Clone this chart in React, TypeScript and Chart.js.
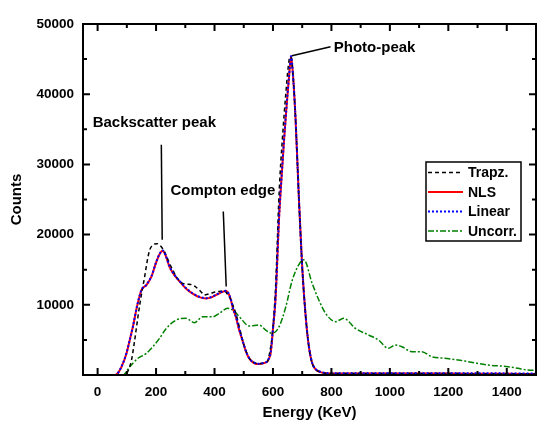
import React, { useEffect, useRef } from 'react';
import { Chart, registerables } from 'chart.js';
Chart.register(...registerables);

// Energy (keV) / counts
const trapzE = [30, 80, 99, 108, 116, 127, 138, 150, 161, 170, 178, 186, 195, 204, 212, 221, 229, 238, 246, 258, 269, 280, 291, 305, 318, 326, 337, 348, 357, 365, 380, 394, 415, 433, 446, 456, 465, 473, 485, 496, 508, 519, 535, 553, 570, 581, 590, 598, 609, 621, 632, 644, 652, 658, 662, 668, 677, 689, 700, 712, 723, 734, 746, 760, 780, 800, 900, 1000, 1100, 1200, 1300, 1400, 1500];
const trapzC = [0, 0, 200, 1000, 2140, 5000, 8300, 11500, 14000, 16300, 17800, 18400, 18660, 18700, 18500, 18100, 17560, 16700, 15900, 14900, 14000, 13400, 13060, 12950, 12900, 12800, 12500, 12100, 11700, 11400, 11550, 11730, 11900, 12000, 11400, 10700, 9700, 8790, 6800, 5000, 3400, 2380, 1800, 1600, 1700, 1900, 3500, 5900, 12580, 25900, 33500, 40100, 43800, 45300, 45200, 43000, 36700, 24900, 15400, 8300, 4000, 1700, 800, 450, 250, 200, 200, 200, 200, 200, 190, 180, 150];

const nlsE = [30, 55, 65, 80, 99, 110, 121, 135, 150, 167, 184, 200, 212, 222, 232, 246, 265, 281, 303, 325, 348, 371, 392, 406, 425, 440, 449, 456, 463, 473, 484, 495, 507, 518, 535, 551, 570, 580, 587, 592, 600, 609, 621, 630, 638, 647, 655, 662, 668, 677, 689, 700, 712, 723, 734, 746, 760, 780, 800, 900, 1000, 1100, 1200, 1300, 1400, 1500];
const nlsC = [0, 0, 100, 1000, 3100, 5000, 6900, 9800, 12100, 12800, 14000, 16000, 17200, 17700, 17100, 15400, 14100, 13300, 12300, 11600, 11100, 10900, 11100, 11400, 11800, 11950, 11500, 10700, 9500, 8300, 6500, 5000, 3400, 2400, 1700, 1550, 1700, 1900, 2400, 3100, 6500, 11000, 22500, 28500, 33500, 38500, 42500, 45400, 43000, 36700, 24900, 15400, 8300, 4000, 1700, 800, 450, 250, 200, 200, 200, 200, 200, 190, 180, 150];

const linearE = nlsE;
const linearC = [0, 0, 100, 1050, 3150, 5000, 6950, 9850, 12100, 12850, 14050, 16050, 17250, 17750, 17150, 15450, 14150, 13350, 12350, 11650, 11150, 10950, 11150, 11450, 11850, 12000, 11550, 10750, 9550, 8350, 6550, 5050, 3450, 2450, 1750, 1600, 1750, 1950, 2450, 3150, 6550, 11050, 22550, 28550, 33550, 38550, 42550, 45450, 43050, 36750, 24950, 15450, 8350, 4050, 1750, 850, 500, 300, 250, 250, 250, 250, 250, 240, 230, 200];

const uncorrE = [40, 87, 110, 138, 167, 189, 212, 235, 269, 303, 331, 360, 394, 416, 445, 462, 485, 519, 553, 575, 598, 621, 644, 666, 695, 706, 734, 757, 780, 814, 842, 882, 927, 961, 995, 1018, 1041, 1075, 1109, 1143, 1188, 1234, 1268, 1336, 1404, 1438, 1472, 1500];
const uncorrC = [0, 0, 1190, 2380, 3090, 4030, 5230, 6650, 7830, 8070, 7450, 8300, 8300, 8770, 9500, 9260, 8300, 6980, 7120, 6400, 5940, 6880, 9730, 13500, 16140, 16400, 13060, 10680, 8790, 7600, 8070, 6650, 5700, 4990, 3800, 4270, 4030, 3320, 3320, 2610, 2380, 2140, 1900, 1420, 1190, 950, 710, 650];

const xTickValues = [0, 200, 400, 600, 800, 1000, 1200, 1400];
const yTickValues = [10000, 20000, 30000, 40000, 50000];
const seriesNames = ['Trapz.', 'NLS', 'Linear', 'Uncorr.'];
const drawOrder = [1, 2, 0, 3];

// annotation texts with anchor (data units)
const annotations = [
  { text: 'Backscatter peak', tx: -17, ty: 35970, from: [218, 32800], to: [221, 19260] },
  { text: 'Compton edge', tx: 249, ty: 26240, from: [430, 23290], to: [440, 12600] },
  { text: 'Photo-peak', tx: 808, ty: 46610, from: [797, 46750], to: [665, 45470] },
];

const FONT = '"Liberation Sans", Arial, sans-serif';

function pts(xs: number[], ys: number[]) {
  return xs.map((x, i) => ({ x, y: ys[i] }));
}

const styles = [
  { color: '#000000', width: 1.5, dash: [4, 3] },
  { color: '#ff0000', width: 2, dash: [] as number[] },
  { color: '#0000ff', width: 2, dash: [2, 2] },
  { color: '#008000', width: 1.5, dash: [6, 2, 2, 2] },
];

export default function App() {
  const ref = useRef<HTMLCanvasElement>(null);
  useEffect(() => {
    document.body.style.margin = '0';
    const canvas = ref.current!;
    const framePlugin = {
      id: 'frame',
      afterDraw(chart: any) {
        const { ctx, chartArea } = chart;
        const { left, right, top, bottom } = chartArea;
        const xs = chart.scales.x;
        const ys = chart.scales.y;
        ctx.save();
        ctx.strokeStyle = '#000';
        ctx.lineWidth = 2;
        ctx.setLineDash([]);
        ctx.strokeRect(left, top, right - left, bottom - top);
        for (let v = 0; v <= 1500; v += 100) {
          const p = xs.getPixelForValue(v);
          const len = v % 200 === 0 ? 7 : 4;
          ctx.beginPath();
          ctx.moveTo(p, bottom);
          ctx.lineTo(p, bottom - len);
          ctx.moveTo(p, top);
          ctx.lineTo(p, top + len);
          ctx.stroke();
        }
        for (let v = 0; v <= 50000; v += 5000) {
          const p = ys.getPixelForValue(v);
          const len = v % 10000 === 0 ? 7 : 4;
          ctx.beginPath();
          ctx.moveTo(left, p);
          ctx.lineTo(left + len, p);
          ctx.moveTo(right, p);
          ctx.lineTo(right - len, p);
          ctx.stroke();
        }
        // annotations
        ctx.fillStyle = '#000';
        ctx.font = `bold 15px ${FONT}`;
        ctx.textBaseline = 'middle';
        ctx.textAlign = 'left';
        ctx.lineWidth = 1.5;
        for (const a of annotations) {
          ctx.fillText(a.text, xs.getPixelForValue(a.tx), ys.getPixelForValue(a.ty));
          ctx.beginPath();
          ctx.moveTo(xs.getPixelForValue(a.from[0]), ys.getPixelForValue(a.from[1]));
          ctx.lineTo(xs.getPixelForValue(a.to[0]), ys.getPixelForValue(a.to[1]));
          ctx.stroke();
        }
        // legend
        const bx = right - 110;
        const by = top + 138;
        const bw = 95;
        const bh = 79;
        ctx.fillStyle = '#fff';
        ctx.fillRect(bx, by, bw, bh);
        ctx.lineWidth = 1.5;
        ctx.strokeStyle = '#000';
        ctx.strokeRect(bx, by, bw, bh);
        ctx.font = `bold 14px ${FONT}`;
        seriesNames.forEach((name, i) => {
          const cy = by + 10.5 + i * 19.5;
          const s = styles[i];
          ctx.beginPath();
          ctx.strokeStyle = s.color;
          ctx.lineWidth = s.width;
          ctx.setLineDash(s.dash);
          ctx.moveTo(bx + 2, cy);
          ctx.lineTo(bx + 37, cy);
          ctx.stroke();
          ctx.setLineDash([]);
          ctx.fillStyle = '#000';
          ctx.fillText(name, bx + 42, cy + 1);
        });
        ctx.restore();
      },
    };
    const datasets = [
      [trapzE, trapzC],
      [nlsE, nlsC],
      [linearE, linearC],
      [uncorrE, uncorrC],
    ].map(([xs, ys], i) => ({
      label: seriesNames[i],
      data: pts(xs, ys),
      borderColor: styles[i].color,
      borderWidth: styles[i].width,
      borderDash: styles[i].dash,
      pointRadius: 0,
      fill: false,
      order: drawOrder[i],
      cubicInterpolationMode: 'monotone' as const,
    }));
    const tickFont = { family: FONT, size: 13.5, weight: 'bold' as const };
    const titleFont = { family: FONT, size: 15, weight: 'bold' as const };
    const chart = new Chart(canvas, {
      type: 'line',
      data: { datasets },
      plugins: [framePlugin],
      options: {
        animation: false,
        responsive: false,
        layout: { padding: { top: 24, right: 1, left: 0, bottom: 0 } },
        plugins: { legend: { display: false }, tooltip: { enabled: false } },
        scales: {
          x: {
            type: 'linear',
            min: -50,
            max: 1500,
            grid: { display: false, drawTicks: false },
            border: { display: false },
            afterBuildTicks: (s: any) => { s.ticks = xTickValues.map((v) => ({ value: v })); },
            afterFit: (s: any) => { s.height = 49; },
            ticks: {
              color: '#000',
              font: tickFont,
              padding: 9,
              maxRotation: 0,
              autoSkip: false,
              callback: (v: any) => String(v),
            },
            title: {
              display: true,
              text: 'Energy (KeV)',
              color: '#000',
              font: titleFont,
              padding: { top: 0, bottom: 2 },
            },
          },
          y: {
            type: 'linear',
            min: 0,
            max: 50000,
            grid: { display: false, drawTicks: false },
            border: { display: false },
            afterBuildTicks: (s: any) => { s.ticks = yTickValues.map((v) => ({ value: v })); },
            afterFit: (s: any) => { s.width = 83; },
            ticks: {
              color: '#000',
              font: tickFont,
              padding: 9,
              callback: (v: any) => String(v),
            },
            title: {
              display: true,
              text: 'Counts',
              color: '#000',
              font: titleFont,
              padding: { top: 8, bottom: 0 },
            },
          },
        },
      },
    });
    return () => chart.destroy();
  }, []);
  return (
    <div style={{ position: 'absolute', left: 0, top: 0, width: 537, height: 424 }}>
      <canvas ref={ref} width={537} height={424} />
    </div>
  );
}
